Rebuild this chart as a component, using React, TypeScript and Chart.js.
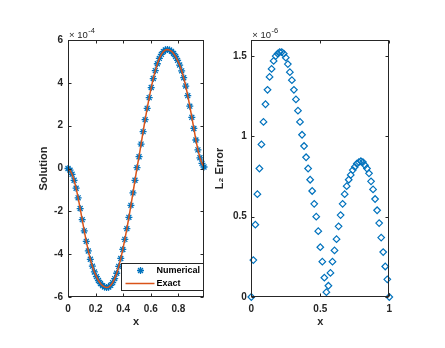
import React, { useEffect, useRef } from "react";
import { Chart, registerables } from "chart.js";

Chart.register(...registerables);

const FONT = "'Liberation Sans', Arial, Helvetica, sans-serif";
const AXIS_COLOR = "#262626";
const BLUE = "#0072BD";
const ORANGE = "#D95319";

// uniform mesh, h = 1/68
const MESH = 68;
const solutionX = Array.from({ length: 68 }, (_, i) => i / MESH);
const errorX = Array.from({ length: 69 }, (_, i) => i / MESH);

// Solution values, in units of 1e-4
const numericalValues = [
  0, -0.08, -0.27, -0.55, -0.92, -1.37, -1.87, -2.39, -2.91, -3.4,
  -3.85, -4.24, -4.56, -4.83, -5.05, -5.23, -5.37, -5.47, -5.53, -5.56,
  -5.54, -5.46, -5.33, -5.14, -4.89, -4.57, -4.2, -3.78, -3.31, -2.81,
  -2.28, -1.72, -1.14, -0.55, 0.04, 0.55, 1.14, 1.72, 2.28, 2.81,
  3.31, 3.78, 4.2, 4.57, 4.89, 5.14, 5.33, 5.46, 5.54, 5.56,
  5.53, 5.47, 5.37, 5.23, 5.05, 4.83, 4.56, 4.24, 3.85, 3.4,
  2.91, 2.39, 1.87, 1.33, 0.87, 0.5, 0.24, 0.07,
];
const exactValues = [
  0, -0.08, -0.27, -0.55, -0.92, -1.37, -1.87, -2.39, -2.91, -3.4,
  -3.85, -4.24, -4.56, -4.83, -5.05, -5.23, -5.37, -5.47, -5.53, -5.56,
  -5.54, -5.46, -5.33, -5.14, -4.89, -4.57, -4.2, -3.78, -3.31, -2.81,
  -2.28, -1.72, -1.14, -0.55, 0.04, 0.55, 1.14, 1.72, 2.28, 2.81,
  3.31, 3.78, 4.2, 4.57, 4.89, 5.14, 5.33, 5.46, 5.54, 5.56,
  5.53, 5.47, 5.37, 5.23, 5.05, 4.83, 4.56, 4.24, 3.85, 3.4,
  2.91, 2.39, 1.87, 1.33, 0.87, 0.5, 0.24, 0.07,
];

// L2 error values, in units of 1e-6
const errorValues = [
  0, 0.23, 0.45, 0.64, 0.8, 0.95, 1.09, 1.2, 1.29, 1.37,
  1.42, 1.47, 1.5, 1.515, 1.525, 1.525, 1.515, 1.49, 1.45, 1.4,
  1.35, 1.29, 1.23, 1.16, 1.09, 1.01, 0.94, 0.87, 0.8, 0.73,
  0.66, 0.58, 0.5, 0.41, 0.31, 0.22, 0.12, 0.03, 0.07, 0.15,
  0.22, 0.29, 0.36, 0.44, 0.51, 0.58, 0.64, 0.69, 0.73, 0.76,
  0.79, 0.81, 0.83, 0.84, 0.845, 0.84, 0.82, 0.8, 0.77, 0.72,
  0.67, 0.61, 0.54, 0.46, 0.37, 0.28, 0.19, 0.11, 0,
];

const solutionYRange = [-6, 6];
const solutionXRange = [0, 67 / 68];
const errorYRange = [0, 1.6];
const errorXRange = [0, 1];

const solutionExponent = "-4";
const errorExponent = "-6";

function formatTick(v: number) {
  return String(Number(Number(v).toFixed(3)));
}

function makeAxesPlugin(exponent: string, withLegend: boolean) {
  return {
    id: "matlabAxes",
    afterDraw(chart: any) {
      const { ctx, chartArea: a, scales } = chart;
      const L = Math.round(a.left) + 0.5;
      const R = Math.round(a.right) - 0.5;
      const T = Math.round(a.top) + 0.5;
      const B = Math.round(a.bottom) - 0.5;
      ctx.save();
      ctx.strokeStyle = AXIS_COLOR;
      ctx.lineWidth = 1;
      ctx.strokeRect(L, T, R - L, B - T);
      const tl = 3;
      ctx.beginPath();
      scales.x.ticks.forEach((t: any) => {
        const px = Math.round(scales.x.getPixelForValue(t.value)) + 0.5;
        ctx.moveTo(px, B);
        ctx.lineTo(px, B - tl);
        ctx.moveTo(px, T);
        ctx.lineTo(px, T + tl);
      });
      scales.y.ticks.forEach((t: any) => {
        const py = Math.round(scales.y.getPixelForValue(t.value)) + 0.5;
        ctx.moveTo(L, py);
        ctx.lineTo(L + tl, py);
        ctx.moveTo(R, py);
        ctx.lineTo(R - tl, py);
      });
      ctx.stroke();

      // exponent label
      ctx.fillStyle = AXIS_COLOR;
      ctx.textAlign = "left";
      ctx.textBaseline = "alphabetic";
      ctx.font = `9.5px ${FONT}`;
      const base = "\u00d7 10";
      ctx.fillText(base, a.left + 1, a.top - 2);
      const w = ctx.measureText(base).width;
      ctx.font = `7.5px ${FONT}`;
      ctx.fillText(exponent, a.left + 1 + w + 0.5, a.top - 7.5);

      if (withLegend) {
        const ds = chart.data.datasets;
        const bw = 82;
        const bh = 27;
        const bx = Math.round(a.right) - 1 - bw + 0.5;
        const by = Math.round(a.bottom) - 7 - bh + 0.5;
        ctx.fillStyle = "#ffffff";
        ctx.fillRect(bx, by, bw, bh);
        ctx.strokeStyle = AXIS_COLOR;
        ctx.lineWidth = 1;
        ctx.strokeRect(bx, by, bw, bh);
        // row 1: star marker
        const sx = bx + 19;
        const sy = by + 7;
        const r = 3.5;
        ctx.strokeStyle = BLUE;
        ctx.lineWidth = 1.3;
        ctx.beginPath();
        ctx.moveTo(sx - r, sy);
        ctx.lineTo(sx + r, sy);
        ctx.moveTo(sx, sy - r);
        ctx.lineTo(sx, sy + r);
        const d = r * Math.SQRT1_2;
        ctx.moveTo(sx - d, sy - d);
        ctx.lineTo(sx + d, sy + d);
        ctx.moveTo(sx - d, sy + d);
        ctx.lineTo(sx + d, sy - d);
        ctx.stroke();
        // row 2: line
        ctx.strokeStyle = ORANGE;
        ctx.lineWidth = 1.5;
        ctx.beginPath();
        ctx.moveTo(bx + 4, by + 20);
        ctx.lineTo(bx + 33, by + 20);
        ctx.stroke();
        ctx.fillStyle = "#000000";
        ctx.font = `bold 9px ${FONT}`;
        ctx.textBaseline = "middle";
        ctx.fillText(ds[0].label, bx + 35, sy + 0.5);
        ctx.fillText(ds[1].label, bx + 35, by + 20.5);
      }
      ctx.restore();
    },
  };
}

function axisOptions(opts: {
  min: number;
  max: number;
  step: number;
  title: string;
  isX: boolean;
  fitSize: number;
  labelPad: number;
  titlePad: any;
}) {
  return {
    type: "linear",
    min: opts.min,
    max: opts.max,
    afterFit(scale: any) {
      if (opts.isX) scale.height = opts.fitSize;
      else scale.width = opts.fitSize;
    },
    grid: { display: false, drawTicks: false },
    border: { display: false },
    ticks: {
      stepSize: opts.step,
      includeBounds: false,
      autoSkip: false,
      maxRotation: 0,
      padding: opts.labelPad,
      color: AXIS_COLOR,
      font: { family: FONT, size: 10, weight: "bold" },
      callback: (v: any) => formatTick(v),
    },
    title: {
      display: true,
      text: opts.title,
      color: AXIS_COLOR,
      font: { family: FONT, size: 11, weight: "bold" },
      padding: opts.titlePad,
    },
  };
}

export default function App() {
  const leftRef = useRef<HTMLCanvasElement>(null);
  const rightRef = useRef<HTMLCanvasElement>(null);

  useEffect(() => {
    const left = new Chart(leftRef.current as HTMLCanvasElement, {
      type: "scatter",
      data: {
        datasets: [
          {
            label: "Numerical",
            data: solutionX.map((x, i) => ({ x, y: numericalValues[i] })),
            showLine: false,
            pointStyle: "star",
            pointRadius: 3.5,
            pointBorderWidth: 1.3,
            borderColor: BLUE,
            backgroundColor: BLUE,
            clip: false,
            order: 1,
          } as any,
          {
            label: "Exact",
            data: solutionX.map((x, i) => ({ x, y: exactValues[i] })),
            showLine: true,
            borderColor: ORANGE,
            backgroundColor: ORANGE,
            borderWidth: 1.5,
            pointRadius: 0,
            tension: 0,
            order: 0,
          } as any,
        ],
      },
      options: {
        responsive: false,
        animation: false,
        devicePixelRatio: 1,
        layout: { padding: { left: 0, top: 40, right: 18, bottom: 0 } },
        plugins: { legend: { display: false }, tooltip: { enabled: false } },
        scales: {
          x: axisOptions({
            min: solutionXRange[0],
            max: solutionXRange[1],
            step: 0.2,
            title: "x",
            isX: true,
            fitSize: 51,
            labelPad: 6,
            titlePad: { top: 0, bottom: 19 },
          }),
          y: axisOptions({
            min: solutionYRange[0],
            max: solutionYRange[1],
            step: 2,
            title: "Solution",
            isX: false,
            fitSize: 68,
            labelPad: 5,
            titlePad: { top: 37, bottom: 0 },
          }),
        } as any,
      },
      plugins: [makeAxesPlugin(solutionExponent, true)],
    });

    const right = new Chart(rightRef.current as HTMLCanvasElement, {
      type: "scatter",
      data: {
        datasets: [
          {
            label: "L2 Error",
            data: errorX.map((x, i) => ({ x, y: errorValues[i] })),
            showLine: false,
            pointStyle: "rectRot",
            pointRadius: 3.3,
            pointBorderWidth: 1.2,
            borderColor: BLUE,
            backgroundColor: "rgba(0,0,0,0)",
            clip: false,
          } as any,
        ],
      },
      options: {
        responsive: false,
        animation: false,
        devicePixelRatio: 1,
        layout: { padding: { left: 0, top: 40, right: 55.7, bottom: 0 } },
        plugins: { legend: { display: false }, tooltip: { enabled: false } },
        scales: {
          x: axisOptions({
            min: errorXRange[0],
            max: errorXRange[1],
            step: 0.5,
            title: "x",
            isX: true,
            fitSize: 51,
            labelPad: 6,
            titlePad: { top: 0, bottom: 19 },
          }),
          y: axisOptions({
            min: errorYRange[0],
            max: errorYRange[1],
            step: 0.5,
            title: "L\u2082 Error",
            isX: false,
            fitSize: 46.3,
            labelPad: 4.5,
            titlePad: { top: 8.4, bottom: 0 },
          }),
        } as any,
      },
      plugins: [makeAxesPlugin(errorExponent, false)],
    });

    return () => {
      left.destroy();
      right.destroy();
    };
  }, []);

  return (
    <div
      style={{
        position: "fixed",
        left: 0,
        top: 0,
        width: 445,
        height: 348,
        background: "#ffffff",
        overflow: "hidden",
      }}
    >
      <canvas
        ref={leftRef}
        width={222}
        height={348}
        style={{ position: "absolute", left: 0, top: 0, width: 222, height: 348 }}
      />
      <canvas
        ref={rightRef}
        width={240}
        height={348}
        style={{ position: "absolute", left: 205, top: 0, width: 240, height: 348 }}
      />
    </div>
  );
}
